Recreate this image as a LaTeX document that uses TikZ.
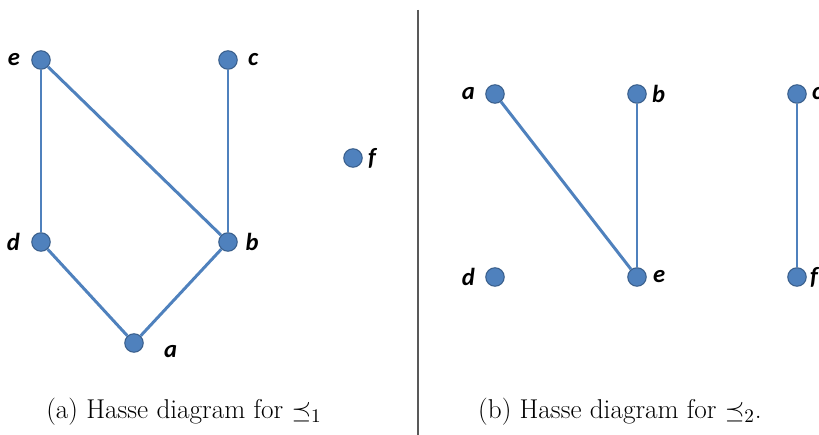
\documentclass[tikz,border=0pt]{standalone}
\usepackage{fontspec}
\usepackage{xcolor}
\usepackage{tikz}
\usetikzlibrary{positioning}
\newfontfamily\lblfont{Carlito}
\definecolor{nodeblue}{HTML}{4F81BD}
\definecolor{nodeline}{HTML}{385D8A}

\begin{document}
\begin{tikzpicture}[x=0.02cm, y=-0.02cm,
    vtx/.style={circle, fill=nodeblue, draw=nodeline, line width=0.6pt, minimum size=0.37cm, inner sep=0pt},
    lbl/.style={inner sep=0pt, font=\lblfont\bfseries\itshape\fontsize{14}{16}\selectfont},
    edge/.style={nodeblue, line width=1.7pt}]
\useasboundingbox (0,0) rectangle (819,435);

% Left diagram
\node[vtx] (e1) at (41,60) {};
\node[vtx] (c1) at (228,60) {};
\node[vtx] (f1) at (353,158) {};
\node[vtx] (d1) at (41,242) {};
\node[vtx] (b1) at (228,242) {};
\node[vtx] (a1) at (134,343) {};

\draw[edge] (e1) -- (d1);
\draw[edge] (e1) -- (b1);
\draw[edge] (c1) -- (b1);
\draw[edge] (d1) -- (a1);
\draw[edge] (b1) -- (a1);

\node[lbl, left=0.22cm of e1] (le1) {e};
\node[lbl, right=0.2cm of c1] (lc1) {c};
\node[lbl, right=0.1cm of f1] (lf1) {f};
\node[lbl, left=0.22cm of d1] (ld1) {d};
\node[lbl, right=0.15cm of b1] (lb1) {b};
\node[lbl, right=0.4cm of a1, yshift=-0.17cm] (la1) {a};

% Divider
\draw[gray!70!black, line width=0.9pt] (418,10) -- (418,435);

% Right diagram
\node[vtx] (a2) at (495,94) {};
\node[vtx] (b2) at (637,94) {};
\node[vtx] (c2) at (797,94) {};
\node[vtx] (d2) at (495,277) {};
\node[vtx] (e2) at (637,277) {};
\node[vtx] (f2) at (797,277) {};

\draw[edge] (a2) -- (e2);
\draw[edge] (b2) -- (e2);
\draw[edge] (c2) -- (f2);

\node[lbl, left=0.2cm of a2] (la2) {a};
\node[lbl, right=0.1cm of b2] (lb2) {b};
\node[lbl, right=0.1cm of c2] (lc2) {c};
\node[lbl, left=0.2cm of d2] (ld2) {d};
\node[lbl, right=0.12cm of e2] (le2) {e};
\node[lbl, right=0.06cm of f2] (lf2) {f};

% Captions
\node[font=\fontsize{15.5}{18}\selectfont] (capa) at (184,412) {(a) Hasse diagram for $\preceq_1$};
\node[font=\fontsize{15.5}{18}\selectfont] (capb) at (620,412) {(b) Hasse diagram for $\preceq_2$.};
\end{tikzpicture}
\end{document}
